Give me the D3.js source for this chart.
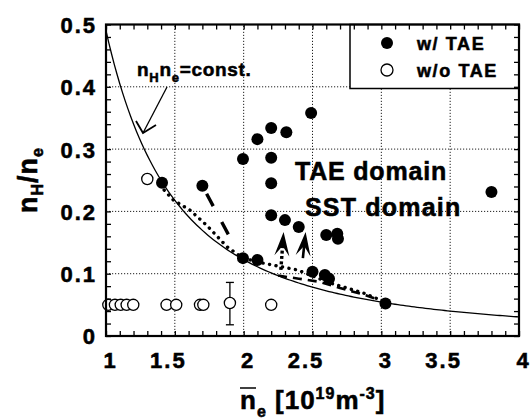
<!DOCTYPE html>
<html>
<head>
<meta charset="utf-8">
<script src="https://cdn.jsdelivr.net/npm/d3@7"></script>
<style>
  html, body { margin: 0; padding: 0; background: #fff; }
  svg text { font-family: "Liberation Sans", Arial, Helvetica, sans-serif; font-weight: bold; fill: #000;
             stroke: #000; stroke-width: 0.55px; }
</style>
</head>
<body>
<svg id="chart" width="532" height="420"></svg>
<script>
// Hydrogen ratio vs. line-averaged density, with and without TAE
const xTickValues = [1, 1.5, 2, 2.5, 3, 3.5, 4];
const xTickLabels = ["1", "1.5", "2", "2.5", "3", "3.5", "4"];
const yTickValues = [0, 0.1, 0.2, 0.3, 0.4, 0.5];
const yTickLabels = ["0", "0.1", "0.2", "0.3", "0.4", "0.5"];

// discharges where TAE was observed
const withTaeNe = [1.407, 1.70, 1.995, 2.10, 2.20, 2.31, 2.49, 2.20, 2.20, 2.20, 2.30, 2.40,
                   1.995, 2.10, 2.50, 2.59, 2.62, 2.60, 2.68, 2.685, 3.80, 3.03];
const withTaeRatio = [0.246, 0.241, 0.284, 0.316, 0.334, 0.327, 0.358, 0.286, 0.245, 0.194, 0.186, 0.175,
                      0.125, 0.122, 0.103, 0.098, 0.092, 0.162, 0.164, 0.156, 0.231, 0.052];

// discharges without TAE
const withoutTaeNe = [1.30, 1.017, 1.065, 1.107, 1.15, 1.198, 1.44, 1.51, 1.683, 1.707, 1.90, 2.20];
const withoutTaeRatio = [0.252, 0.05, 0.05, 0.05, 0.05, 0.05, 0.05, 0.05, 0.05, 0.05, 0.053, 0.05];
const errorBarNe = [1.90];
const errorBarLow = [0.018];
const errorBarHigh = [0.086];

// nH * ne = const reference curve
const constProduct = 0.49;

// time traces of individual discharges
const dottedTraceNe = [1.39, 1.49, 1.61, 1.73, 1.88, 1.995, 2.14, 2.39, 2.63, 2.87, 3.08];
const dottedTraceRatio = [0.242, 0.218, 0.202, 0.178, 0.143, 0.125, 0.117, 0.106, 0.085, 0.069, 0.050];
const dashedTraceNe = [2.25, 2.40, 2.55, 2.70, 2.88, 2.98];
const dashedTraceRatio = [0.097, 0.092, 0.087, 0.077, 0.066, 0.058];
const longDashNe = [1.70, 1.93];
const longDashRatio = [0.241, 0.146];
// upward transitions (start ne, start ratio, end ne, end ratio)
const arrowStartNe = [2.27, 2.43];
const arrowStartRatio = [0.106, 0.125];
const arrowEndNe = [2.29, 2.45];
const arrowEndRatio = [0.167, 0.167];

const svg = d3.select("#chart");
const x = d3.scaleLinear().domain([1, 4]).range([106, 519]);
const y = d3.scaleLinear().domain([0, 0.5]).range([336, 24.5]);

// dotted grid
const grid = svg.append("g").attr("stroke", "#222").attr("stroke-width", 1)
  .attr("stroke-dasharray", "1.2 1.8");
grid.selectAll("line.gx").data(xTickValues.slice(1, -1)).join("line")
  .attr("x1", d => x(d)).attr("x2", d => x(d)).attr("y1", y(0)).attr("y2", y(0.5));
grid.selectAll("line.gy").data(yTickValues.slice(1, -1)).join("line")
  .attr("class", "gy")
  .attr("x1", x(1)).attr("x2", x(4)).attr("y1", d => y(d)).attr("y2", d => y(d));

// legend box (drawn over the grid)
const legend = svg.append("g");
legend.append("rect").attr("x", 350).attr("y", y(0.5)).attr("width", x(4) - 350).attr("height", 64)
  .attr("fill", "#fff").attr("stroke", "#000").attr("stroke-width", 1.5);
legend.append("circle").attr("cx", 387).attr("cy", 43).attr("r", 6).attr("fill", "#000");
legend.append("circle").attr("cx", 387).attr("cy", 70).attr("r", 6).attr("fill", "#fff")
  .attr("stroke", "#000").attr("stroke-width", 1.3);
legend.append("text").attr("x", 417).attr("y", 50).attr("font-size", 18).attr("letter-spacing", 1.6).text("w/ TAE");
legend.append("text").attr("x", 417).attr("y", 77).attr("font-size", 18).attr("letter-spacing", 1.6).text("w/o TAE");

// nH ne = const curve
const curveNe = d3.range(1, 4.0001, 0.02);
svg.append("path")
  .attr("d", d3.line().x(d => x(d)).y(d => y(constProduct / (d * d)))(curveNe))
  .attr("fill", "none").attr("stroke", "#000").attr("stroke-width", 1.3);

// discharge traces
const traceLine = d3.line().x(d => x(d[0])).y(d => y(d[1]));
svg.append("path").attr("d", traceLine(d3.zip(dottedTraceNe, dottedTraceRatio)))
  .attr("fill", "none").attr("stroke", "#000").attr("stroke-width", 3.4)
  .attr("stroke-linecap", "round").attr("stroke-dasharray", "0.1 6.5");
svg.append("path").attr("d", traceLine(d3.zip(dashedTraceNe, dashedTraceRatio)))
  .attr("fill", "none").attr("stroke", "#000").attr("stroke-width", 2.6)
  .attr("stroke-dasharray", "9 6");
svg.append("path").attr("d", traceLine(d3.zip(longDashNe, longDashRatio)))
  .attr("fill", "none").attr("stroke", "#000").attr("stroke-width", 3.4)
  .attr("stroke-dasharray", "0 9 14 9");

// upward arrows
arrowStartNe.forEach((ne, i) => {
  const x0 = x(ne), y0 = y(arrowStartRatio[i]);
  const x1 = x(arrowEndNe[i]), y1 = y(arrowEndRatio[i]);
  const ang = Math.atan2(y1 - y0, x1 - x0);
  const len = 24, half = 7.5, notch = 14;
  const bx = x1 - len * Math.cos(ang), by = y1 - len * Math.sin(ang);
  const nx = x1 - notch * Math.cos(ang), ny = y1 - notch * Math.sin(ang);
  const px = -Math.sin(ang), py = Math.cos(ang);
  svg.append("line").attr("x1", x0).attr("y1", y0).attr("x2", nx).attr("y2", ny)
    .attr("stroke", "#000").attr("stroke-width", i === 0 ? 3.4 : 2.6)
    .attr("stroke-dasharray", i === 0 ? "3 2.5" : null);
  svg.append("path")
    .attr("d", `M${x1},${y1} L${bx + half * px},${by + half * py} L${nx},${ny} L${bx - half * px},${by - half * py} Z`)
    .attr("fill", "#000");
});

// error bar
svg.selectAll("g.err").data(d3.range(errorBarNe.length)).join("g").each(function (i) {
  const g = d3.select(this), cx = x(errorBarNe[i]);
  g.append("line").attr("x1", cx).attr("x2", cx).attr("y1", y(errorBarLow[i])).attr("y2", y(errorBarHigh[i]))
    .attr("stroke", "#000").attr("stroke-width", 1.3);
  [errorBarLow[i], errorBarHigh[i]].forEach(v => g.append("line")
    .attr("x1", cx - 4).attr("x2", cx + 4).attr("y1", y(v)).attr("y2", y(v))
    .attr("stroke", "#000").attr("stroke-width", 1.3));
});

// points without TAE
svg.selectAll("circle.open").data(d3.zip(withoutTaeNe, withoutTaeRatio)).join("circle")
  .attr("class", "open")
  .attr("cx", d => x(d[0])).attr("cy", d => y(d[1])).attr("r", 5.6)
  .attr("fill", "#fff").attr("stroke", "#000").attr("stroke-width", 1.3);

// points with TAE
svg.selectAll("circle.filled").data(d3.zip(withTaeNe, withTaeRatio)).join("circle")
  .attr("class", "filled")
  .attr("cx", d => x(d[0])).attr("cy", d => y(d[1])).attr("r", 6)
  .attr("fill", "#000");

// frame and inward ticks
svg.append("rect").attr("x", x(1)).attr("y", y(0.5)).attr("width", x(4) - x(1)).attr("height", y(0) - y(0.5))
  .attr("fill", "none").attr("stroke", "#000").attr("stroke-width", 2.2);

const xMinor = d3.range(1, 4.0001, 0.1);
const yMinor = d3.range(0, 0.5001, 0.02);
const axisBottom = d3.axisBottom(x).tickValues(xMinor).tickSizeInner(-5).tickSizeOuter(0).tickFormat("");
const axisTop = d3.axisTop(x).tickValues(xMinor).tickSizeInner(-5).tickSizeOuter(0).tickFormat("");
const axisLeft = d3.axisLeft(y).tickValues(yMinor).tickSizeInner(-5).tickSizeOuter(0).tickFormat("");
const axisRight = d3.axisRight(y).tickValues(yMinor).tickSizeInner(-5).tickSizeOuter(0).tickFormat("");
[[axisBottom, `translate(0,${y(0)})`], [axisTop, `translate(0,${y(0.5)})`],
 [axisLeft, `translate(${x(1)},0)`], [axisRight, `translate(${x(4)},0)`]]
  .forEach(([ax, tr]) => {
    const g = svg.append("g").attr("transform", tr).call(ax);
    g.select(".domain").remove();
    g.selectAll(".tick line").attr("stroke", "#000").attr("stroke-width", 1.3);
  });

// tick labels
const xl = d3.axisBottom(x).tickValues(xTickValues).tickSize(0).tickPadding(0)
  .tickFormat((d, i) => xTickLabels[i]);
const xg = svg.append("g").attr("transform", `translate(0,${y(0)})`).call(xl);
xg.select(".domain").remove();
xg.selectAll(".tick text").attr("font-size", 22).attr("letter-spacing", 2)
  .attr("font-family", null).attr("fill", "#000")
  .attr("dy", 0).attr("y", 32)
  .attr("dx", d => Number.isInteger(d) ? 4 : -7);

const yl = d3.axisLeft(y).tickValues(yTickValues).tickSize(0).tickPadding(0)
  .tickFormat((d, i) => yTickLabels[i]);
const yg = svg.append("g").attr("transform", `translate(${x(1) - 9},0)`).call(yl);
yg.select(".domain").remove();
yg.selectAll(".tick text").attr("font-size", 22).attr("letter-spacing", 2)
  .attr("font-family", null).attr("fill", "#000").attr("dy", "0.36em");

// axis titles
const yt = svg.append("text").attr("transform", "translate(37,180) rotate(-90)")
  .attr("text-anchor", "middle").attr("font-size", 27).attr("letter-spacing", 1);
yt.append("tspan").text("n");
yt.append("tspan").attr("font-size", 16).attr("dy", 6).text("H");
yt.append("tspan").attr("dy", -6).text("/n");
yt.append("tspan").attr("font-size", 16).attr("dy", 6).text("e");

const xt = svg.append("text").attr("x", 240).attr("y", 409).attr("font-size", 26).attr("letter-spacing", 1);
xt.append("tspan").text("n");
xt.append("tspan").attr("font-size", 16).attr("dy", 8).text("e");
xt.append("tspan").attr("dy", -8).text(" [10");
xt.append("tspan").attr("font-size", 16).attr("dy", -10).text("19");
xt.append("tspan").attr("dy", 10).text("m");
xt.append("tspan").attr("font-size", 16).attr("dy", -10).text("-3");
xt.append("tspan").attr("dy", 10).text("]");
svg.append("line").attr("x1", 240).attr("x2", 256).attr("y1", 388).attr("y2", 388)
  .attr("stroke", "#000").attr("stroke-width", 1.5);

// annotations
const cl = svg.append("text").attr("x", 137).attr("y", 76).attr("font-size", 19).attr("letter-spacing", 0.7);
cl.append("tspan").text("n");
cl.append("tspan").attr("font-size", 13).attr("dy", 6).text("H");
cl.append("tspan").attr("dy", -6).text("n");
cl.append("tspan").attr("font-size", 13).attr("dy", 6).text("e");
cl.append("tspan").attr("dy", -6).text("=const.");
svg.append("line").attr("x1", 167).attr("y1", 87).attr("x2", 143).attr("y2", 133)
  .attr("stroke", "#000").attr("stroke-width", 1.3);
svg.append("path").attr("d", "M136,121 L143,133 L156,125")
  .attr("fill", "none").attr("stroke", "#000").attr("stroke-width", 1.8);

svg.append("text").attr("x", 295).attr("y", 180).attr("font-size", 25).attr("letter-spacing", 0.8).text("TAE domain");
svg.append("text").attr("x", 305).attr("y", 216).attr("font-size", 25).attr("letter-spacing", 1.2).text("SST domain");
</script>
</body>
</html>
